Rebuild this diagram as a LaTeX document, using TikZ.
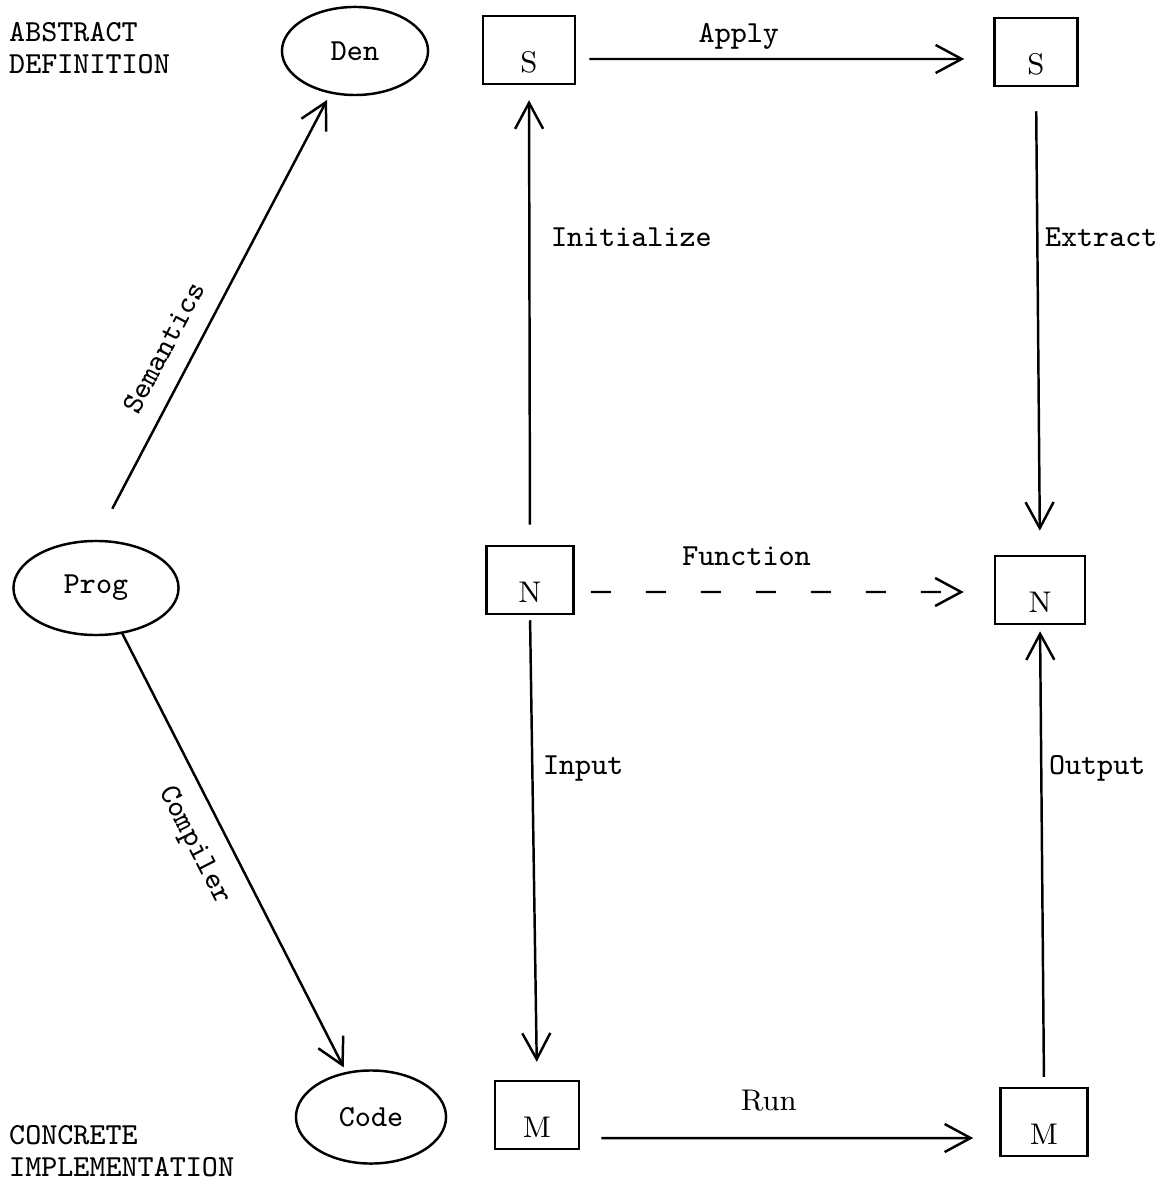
\documentclass[tikz,border=0pt]{standalone}
\usepackage{fontspec}
\usepackage{tikz}
\usetikzlibrary{shapes, arrows.meta, positioning}
\newcommand{\labfont}{\ttfamily\fontsize{8.7}{9.1}\selectfont}
\newcommand{\boxfont}{\rmfamily\fontsize{8.5}{10}\selectfont}

\begin{document}
\begin{tikzpicture}
  [
    x=0.01cm, y=-0.01cm, line width=0.7pt,
    Oval/.style={ellipse, draw=black, inner sep=0pt, font=\labfont},
    Box/.style={rectangle, draw=black, inner sep=0pt, minimum width=0.88cm, text height=0.56cm, text depth=0.12cm, font=\boxfont},
    Arr/.style={-{Straight Barb[length=2.6mm, width=2.8mm]}, draw},
    Lbl/.style={inner sep=1pt, font=\labfont},
    Side/.style={align=left, anchor=west, inner sep=0pt, font=\labfont}
  ]
  \useasboundingbox (0,0) rectangle (1161,1189);
  % Nodes
  \node[Side] (abs) at (8, 48) {ABSTRACT\\DEFINITION};
  \node[Side] (con) at (8, 1151) {CONCRETE\\IMPLEMENTATION};
  \node[Oval, minimum width=1.46cm, minimum height=0.88cm] (den) at (355, 51) {Den};
  \node[Oval, minimum width=1.65cm, minimum height=0.94cm] (prog) at (96, 588) {Prog};
  \node[Oval, minimum width=1.50cm, minimum height=0.93cm] (code) at (371, 1117) {Code};
  \node[Box, minimum width=0.92cm] (s1) at (529, 50) {S};
  \node[Box, minimum width=0.83cm] (s2) at (1036, 52) {S};
  \node[Box, minimum width=0.87cm] (n1) at (530, 580) {N};
  \node[Box, minimum width=0.90cm] (n2) at (1040, 590) {N};
  \node[Box, minimum width=0.84cm] (m1) at (537, 1115) {M};
  \node[Box, minimum width=0.87cm] (m2) at (1044, 1122) {M};
  % Lines
  \path [Arr, shorten <=1.3mm, shorten >=2.9mm] ([yshift=-0.09cm]s1.east) -- ([yshift=-0.07cm]s2.west)
    node[Lbl, pos=0.39, above=0.5mm] {Apply};
  \path [Arr, dash pattern=on 2mm off 3.5mm, shorten <=1.6mm, shorten >=3mm] ([yshift=-0.12cm]n1.east) -- ([yshift=-0.02cm]n2.west)
    node[Lbl, pos=0.41, above=2.2mm] {Function};
  \path [Arr, shorten <=2.1mm, shorten >=2.6mm] ([yshift=-0.23cm]m1.east) -- ([yshift=-0.16cm]m2.west)
    node[Lbl, font=\boxfont, pos=0.45, above=2.2mm] {Run};
  \path [Arr, shorten <=2mm, shorten >=1.5mm] (n1.north) -- (s1.south)
    node[Lbl, pos=0.67, right=1.7mm] {Initialize};
  \path [Arr, shorten <=2.4mm, shorten >=2.4mm] (s2.south) -- (n2.north)
    node[Lbl, pos=0.32, right=0.3mm] {Extract};
  \path [Arr, shorten <=0.5mm, shorten >=1.8mm] (n1.south) -- (m1.north)
    node[Lbl, pos=0.33, right=0.6mm] {Input};
  \path [Arr, shorten <=1mm, shorten >=0.6mm] (m2.north) -- (n2.south)
    node[Lbl, pos=0.69, right=0.3mm] {Output};
  \path [Arr, shorten <=3.5mm, shorten >=0.7mm] (prog.north) -- (den.240)
    node[Lbl, sloped, pos=0.4, above=1.5mm] {Semantics};
  \path [Arr, shorten >=0.5mm] (prog.-60) -- (code.119)
    node[Lbl, sloped, pos=0.45, below=1.5mm] {Compiler};
\end{tikzpicture}
\end{document}
